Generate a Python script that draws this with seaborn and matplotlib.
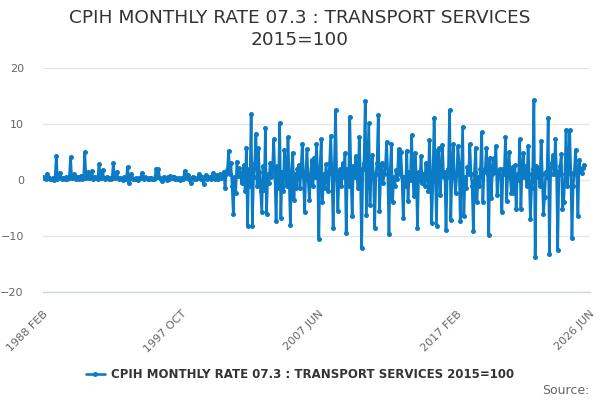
import pandas as pd
import numpy as np
import matplotlib
matplotlib.use('Agg')
import matplotlib.pyplot as plt
import matplotlib.dates as mdates
import seaborn as sns

# monthly rate, Feb 1988 onward
y1988 = [0.6, 0.4, 0.2, 1.1, 0.6, 0.3, 0.1, 0.2, 0.4, 0.0, 0.3]
y1989 = [4.3, 0.2, 0.5, 1.3, 0.4, 0.2, 0.3, 0.1, 0.5, 0.2, 0.3, 0.4]
y1990 = [4.1, 0.3, 0.4, 1.0, 0.5, 0.2, 0.6, 0.1, 0.4, 0.8, 0.2, 0.3]
y1991 = [5.0, 0.4, 0.6, 1.5, 0.3, 0.5, 1.6, 0.2, 0.4, 0.6, 0.3, 0.2]
y1992 = [2.9, 0.5, 0.3, 1.8, 0.4, 0.2, 0.3, 0.6, 0.2, 0.4, 0.1, 0.3]
y1993 = [3.0, 0.4, 0.6, 1.5, 0.3, 0.1, 0.4, 0.2, 0.0, 0.5, 0.2, 0.3]
y1994 = [2.3, -0.6, 0.3, 1.0, 0.4, 0.2, 0.1, 0.3, 0.2, 0.0, 0.3, 0.4]
y1995 = [1.2, 0.3, 0.2, 0.5, 0.3, 0.1, 0.2, 0.4, 0.3, 0.2, 0.1, 0.3]
y1996 = [2.0, 0.5, 1.9, 0.4, 0.2, -0.2, 0.3, 0.6, 0.3, 0.0, 0.5, 0.2]
y1997 = [0.8, 0.3, 0.5, 0.6, 0.1, 0.4, 0.2, 0.3, 0.0, 0.2, 0.4, 0.1]
y1998 = [1.6, 0.7, 0.4, 0.9, 0.2, -0.5, 0.3, 0.6, 0.2, 0.4, 0.1, 0.3]
y1999 = [1.1, 0.8, 0.2, 0.5, -0.8, 0.4, 0.9, 0.2, 0.3, 0.6, 0.1, 0.4]
y2000 = [1.3, 0.6, 0.2, 0.9, 0.1, 0.5, 1.0, 0.3, 0.7, 1.5, -1.5, 1.0]
y2001 = [1.8, 5.2, 1.0, 3.0, -1.0, -6.0, 0.5, -2.4, 3.3, 0.8, 2.1, 1.2]
y2002 = [-0.5, 1.5, 2.7, -2.0, 5.8, -8.2, 2.0, -1.0, 11.7, -8.3, 0.5, 3.0]
y2003 = [8.3, -1.0, 5.7, 1.5, -2.0, -5.7, 2.5, -1.8, 9.2, -6.0, 1.0, -0.6]
y2004 = [3.0, 0.5, 2.0, 7.3, 1.0, -7.4, 2.5, -1.5, 10.2, -6.7, 1.5, -2.0]
y2005 = [5.4, 1.0, -1.0, 7.6, 0.5, -8.0, 1.5, 4.9, -3.6, 1.0, -1.5, 2.0]
y2006 = [2.7, -1.5, 1.5, 6.5, 0.8, -5.8, 1.2, 5.5, 0.0, -3.6, 1.0, 3.6]
y2007 = [-1.0, 4.0, 0.5, 6.4, 1.5, -10.6, 2.0, 7.3, -3.9, 1.0, -1.5, 2.8]
y2008 = [0.5, -2.0, 3.0, 7.9, 1.0, -8.5, 2.0, 12.5, 0.5, -5.5, 1.5, 2.0]
y2009 = [-1.0, 3.0, 0.5, 4.8, -9.4, 2.0, -1.0, 11.3, 1.0, -6.5, 2.5, 0.5]
y2010 = [4.2, 1.0, -1.5, 7.6, 1.0, -12.2, 2.0, 3.0, 14.1, -6.3, 2.0, 10.1]
y2011 = [-4.5, 1.5, 4.5, 0.5, -8.5, 1.0, 3.0, 11.6, -5.5, 0.5, 3.0, -0.5]
y2012 = [1.0, 2.5, 6.8, 1.0, -9.7, 1.5, 6.5, -3.9, 0.5, -1.0, 1.8, 0.2]
y2013 = [5.5, 1.0, 5.0, 0.5, -6.7, 0.5, -1.0, 5.2, -3.8, 1.5, 0.0, 8.0]
y2014 = [1.0, -2.8, 4.8, 1.0, -8.5, 1.5, 0.0, 4.2, -0.5, 1.0, -1.0, 3.0]
y2015 = [1.0, -2.0, 7.1, 1.0, -7.6, 0.0, 11.1, 1.0, -8.2, 5.4, 5.7, -2.7]
y2016 = [1.0, 6.3, 0.5, 1.5, -8.9, 0.5, 2.0, 12.5, -7.1, 1.5, 6.4, 0.5]
y2017 = [-2.4, 1.0, 6.0, 3.0, -7.4, 1.5, 9.5, -6.5, 0.5, -1.5, 2.4, 1.0]
y2018 = [6.4, 1.0, -1.0, -9.1, 1.5, 5.8, -3.9, 0.5, -1.0, 2.0, 8.5, -3.9]
y2019 = [1.5, 2.0, 5.8, 1.0, -9.8, 3.9, -3.3, 1.0, 3.9, 1.5, 6.1, -2.7]
y2020 = [1.5, 2.0, 0.5, -5.7, 2.0, 1.0, 7.6, -3.8, 1.5, 5.0, 0.5, -2.4]
y2021 = [2.4, -2.4, 2.6, -5.2, 1.0, 0.0, 7.3, -5.1, 1.5, 4.9, 0.5, 2.5]
y2022 = [-1.0, 6.1, 1.0, -7.0, -1.5, 2.0, 14.3, -13.7, 2.5, 0.5, 2.0, -1.0]
y2023 = [7.0, 1.0, -6.1, -3.0, 1.5, 0.5, 11.1, -13.2, 1.0, 3.0, 4.5, 1.0]
y2024 = [7.3, 1.5, -12.5, 1.0, 2.5, 4.6, -5.1, -4.0, 1.0, 8.9, -1.0, 2.0]
y2025 = [8.9, 1.0, -10.3, -1.0, 1.5, 5.4, 1.0, -6.5, 3.6, 2.0, 1.2, 2.1]
y2026 = [2.7]

years = [y1988, y1989, y1990, y1991, y1992, y1993, y1994, y1995, y1996, y1997,
         y1998, y1999, y2000, y2001, y2002, y2003, y2004, y2005, y2006, y2007,
         y2008, y2009, y2010, y2011, y2012, y2013, y2014, y2015, y2016, y2017,
         y2018, y2019, y2020, y2021, y2022, y2023, y2024, y2025, y2026]
values = [v for y in years for v in y]

tick_labels = ['1988 FEB', '1997 OCT', '2007 JUN', '2017 FEB', '2026 JUN']
series_name = 'CPIH MONTHLY RATE 07.3 : TRANSPORT SERVICES 2015=100'

dates = pd.date_range('1988-02-01', periods=len(values), freq='MS')
df = pd.DataFrame({'date': dates, 'rate': values})

sns.set_style("white")
plt.rcParams['font.family'] = ['DejaVu Sans']

fig = plt.figure(figsize=(6, 4), dpi=100)
ax = fig.add_axes([0.072, 0.27, 0.911, 0.56])

blue = '#0a7bc4'
sns.lineplot(data=df, x='date', y='rate', ax=ax, color=blue, linewidth=1.9,
             marker='o', markersize=3.6, markeredgewidth=0, label=series_name,
             legend=False)

# axis range and ticks (ticks every 29 months, labelled every 4th)
start = pd.Timestamp('1988-02-01')
end = pd.Timestamp('2026-06-01')
ax.set_xlim(start, end)
ax.set_ylim(-20, 20)
ax.set_yticks([-20, -10, 0, 10, 20])

minor = [start + pd.DateOffset(months=29 * i) for i in range(16)]
major = [minor[0], minor[4], minor[8], minor[12], end]
ax.set_xticks(major)
ax.set_xticklabels(tick_labels, rotation=45, ha='right', rotation_mode='anchor',
                   fontsize=8, color='#666666')
ax.set_xticks([m for i, m in enumerate(minor) if i % 4 != 0], minor=True)

ax.tick_params(axis='x', which='both', direction='out', length=9, width=1,
               color='#ccd6eb', pad=3)
ax.tick_params(axis='y', length=0, labelsize=8, labelcolor='#666666', pad=14)

ax.grid(axis='y', color='#e6e6e6', linewidth=1)
ax.set_axisbelow(True)
for s in ['top', 'right', 'left']:
    ax.spines[s].set_visible(False)
ax.spines['bottom'].set_color('#ccd6eb')
ax.spines['bottom'].set_linewidth(1)
ax.set_xlabel('')
ax.set_ylabel('')

fig.suptitle('CPIH MONTHLY RATE 07.3 : TRANSPORT SERVICES\n2015=100',
             x=0.5, y=0.978, fontsize=13.3, color='#333333', linespacing=1.3)

handles, labels = ax.get_legend_handles_labels()
leg = fig.legend(handles, labels, loc='center', bbox_to_anchor=(0.5, 0.063),
                 frameon=False, handlelength=1.6, handletextpad=0.5,
                 prop={'weight': 'bold', 'size': 8.5})
for t in leg.get_texts():
    t.set_color('#333333')

fig.text(0.983, 0.025, 'Source:', ha='right', va='center', fontsize=9,
         color='#666666')

fig.savefig('out.png', dpi=100)
